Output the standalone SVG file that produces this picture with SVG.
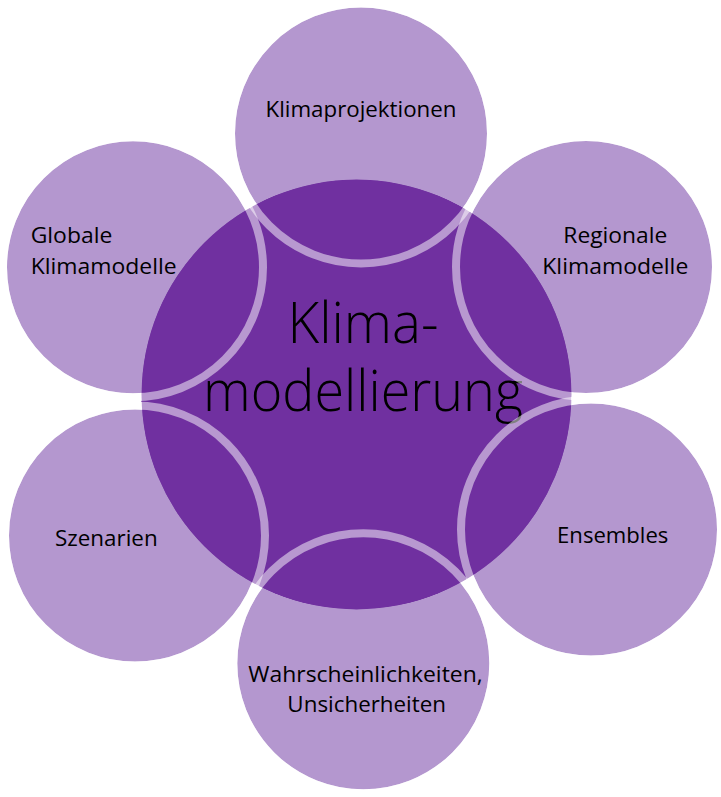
<svg xmlns="http://www.w3.org/2000/svg" width="721" height="797" viewBox="0 0 721 797">
<style>
  .sat { fill: #b497cf; stroke: #ffffff; stroke-width: 8; }
  .ring { fill: none; stroke: #ffffff; stroke-opacity: 0.5; stroke-width: 8; }
  .center { fill: #7030a0; }
  .lbl { font-family: "Open Sans", "Noto Sans", "Liberation Sans", sans-serif; font-size: 21px; fill: #000000; }
  .big { font-family: "Open Sans", "Noto Sans", "Liberation Sans", sans-serif; font-size: 57px; font-weight: 300; fill: #000000; }
</style>
<defs>
  <mask id="outside" maskUnits="userSpaceOnUse" x="0" y="0" width="721" height="797">
    <rect x="0" y="0" width="721" height="797" fill="#ffffff"/>
    <circle cx="356.5" cy="394.5" r="215" fill="#000000"/>
  </mask>
</defs>
<rect x="0" y="0" width="721" height="797" fill="#ffffff"/>

<g id="node-klimamodellierung">
  <circle class="center" cx="356.5" cy="394.5" r="215.5"/>
  <text class="big" text-anchor="middle" x="363" y="343.3" textLength="151" lengthAdjust="spacingAndGlyphs">Klima-</text>
  <text class="big" text-anchor="middle" x="363" y="411" textLength="320" lengthAdjust="spacingAndGlyphs">modellierung</text>
</g>

<g id="connectors"></g>

<g id="node-klimaprojektionen">
  <circle class="sat" cx="361" cy="133.5" r="130" mask="url(#outside)"/>
  <circle class="ring" cx="361" cy="133.5" r="130"/>
  <text class="lbl" text-anchor="middle" x="361" y="117.3" textLength="191" lengthAdjust="spacingAndGlyphs">Klimaprojektionen</text>
</g>

<g id="node-regionale-klimamodelle">
  <circle class="sat" cx="586" cy="267" r="130" mask="url(#outside)"/>
  <circle class="ring" cx="586" cy="267" r="130"/>
  <text class="lbl" text-anchor="middle" x="615.3" y="243.3" textLength="104" lengthAdjust="spacingAndGlyphs">Regionale</text>
  <text class="lbl" text-anchor="middle" x="615.3" y="274" textLength="146" lengthAdjust="spacingAndGlyphs">Klimamodelle</text>
</g>

<g id="node-ensembles">
  <circle class="sat" cx="591" cy="529.5" r="130" mask="url(#outside)"/>
  <circle class="ring" cx="591" cy="529.5" r="130"/>
  <text class="lbl" text-anchor="middle" x="612.7" y="543.3" textLength="111.3" lengthAdjust="spacingAndGlyphs">Ensembles</text>
</g>

<g id="node-wahrscheinlichkeiten">
  <circle class="sat" cx="363.3" cy="663.3" r="130" mask="url(#outside)"/>
  <circle class="ring" cx="363.3" cy="663.3" r="130"/>
  <text class="lbl" text-anchor="middle" x="365.5" y="681.7" textLength="234.4" lengthAdjust="spacingAndGlyphs">Wahrscheinlichkeiten,</text>
  <text class="lbl" text-anchor="middle" x="366.7" y="711.7" textLength="158.7" lengthAdjust="spacingAndGlyphs">Unsicherheiten</text>
</g>

<g id="node-szenarien">
  <circle class="sat" cx="135" cy="535.5" r="130" mask="url(#outside)"/>
  <circle class="ring" cx="135" cy="535.5" r="130"/>
  <text class="lbl" text-anchor="middle" x="106.3" y="546" textLength="102.7" lengthAdjust="spacingAndGlyphs">Szenarien</text>
</g>

<g id="node-globale-klimamodelle">
  <circle class="sat" cx="133" cy="267.3" r="130" mask="url(#outside)"/>
  <circle class="ring" cx="133" cy="267.3" r="130"/>
  <text class="lbl" x="30.7" y="243.3" textLength="81.6" lengthAdjust="spacingAndGlyphs">Globale</text>
  <text class="lbl" x="30.7" y="274" textLength="146" lengthAdjust="spacingAndGlyphs">Klimamodelle</text>
</g>
</svg>
